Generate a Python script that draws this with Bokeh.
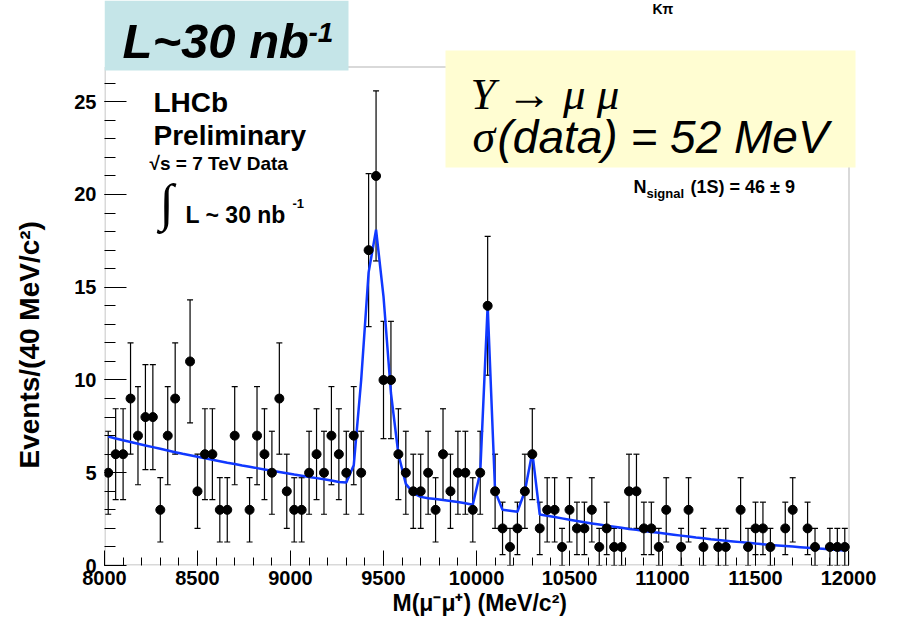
import math
from bokeh.plotting import figure
from bokeh.models import (Range1d, Whisker, ColumnDataSource, Label, BoxAnnotation,
                          TeeHead, FixedTicker, Title)
from bokeh.embed import file_html
from bokeh.resources import INLINE

# ---------------- data ----------------
mass_min = 8000.0
bin_width = 40.0
counts = [5, 6, 6, 9, 7, 8, 8, 3, 7, 9,
          0, 11, 4, 6, 6, 3, 3, 7, 0, 3,
          7, 6, 5, 9, 4, 3, 3, 5, 6, 5,
          7, 6, 5, 7, 5, 17, 21, 10, 10, 6,
          5, 4, 4, 5, 3, 6, 4, 5, 5, 3,
          5, 14, 4, 2, 1, 2, 4, 6, 2, 3,
          3, 1, 3, 2, 2, 3, 1, 2, 1, 1,
          4, 4, 2, 2, 1, 3, 0, 1, 3, 0,
          1, 0, 1, 1, 0, 3, 1, 2, 2, 1,
          0, 2, 3, 0, 2, 1, 0, 1, 1, 1]
fit = [6.95, 6.85, 6.75, 6.66, 6.56, 6.47, 6.38, 6.29, 6.20, 6.11,
       6.02, 5.94, 5.86, 5.78, 5.70, 5.62, 5.54, 5.47, 5.39, 5.32,
       5.25, 5.18, 5.11, 5.04, 4.97, 4.90, 4.84, 4.77, 4.71, 4.65,
       4.58, 4.50, 4.47, 5.40, 10.0, 15.8, 18.1, 14.5, 9.3, 6.0,
       4.40, 3.90, 3.70, 3.63, 3.58, 3.53, 3.48, 3.42, 3.36, 3.28,
       5.00, 14.0, 4.00, 3.00, 2.95, 2.90, 4.00, 6.10, 2.75, 2.68,
       2.61, 2.54, 2.47, 2.40, 2.33, 2.27, 2.21, 2.15, 2.09, 2.03,
       1.97, 1.92, 1.86, 1.81, 1.76, 1.71, 1.66, 1.61, 1.56, 1.51,
       1.47, 1.42, 1.38, 1.34, 1.30, 1.26, 1.22, 1.18, 1.15, 1.11,
       1.08, 1.05, 1.02, 0.99, 0.96, 0.93, 0.90, 0.87, 0.84, 0.81]
x_ticks = [8000, 8500, 9000, 9500, 10000, 10500, 11000, 11500, 12000]
y_ticks = [0, 5, 10, 15, 20, 25]
x_lo, x_hi = 8000, 12000
y_lo, y_hi = 0, 26.9

centers = [mass_min + bin_width * (i + 0.5) for i in range(len(counts))]
shown = [(c, n) for c, n in zip(centers, counts) if n > 0]
px_ = [c for c, n in shown]
py_ = [n for c, n in shown]
src = ColumnDataSource(dict(
    x=px_, y=py_,
    upper=[n + math.sqrt(n) for n in py_],
    lower=[n - math.sqrt(n) for n in py_]))

# ---------------- figure ----------------
W, H = 897, 625
L, B = 104, 60                 # left / bottom borders of the canvas
PX_X_HI, PX_Y_HI = 848, 66     # pixel of x=12000 and of y=26.9
fw, fh = W - L, H - B
x_per_px = (x_hi - x_lo) / (PX_X_HI - L)
y_per_px = (y_hi - y_lo) / (fh - PX_Y_HI)
XMAX = x_lo + fw * x_per_px
YMAX = y_lo + fh * y_per_px

p = figure(width=W, height=H, x_range=Range1d(x_lo, XMAX), y_range=Range1d(y_lo, YMAX),
           output_backend="svg", toolbar_location=None, title=None,
           min_border_left=L, min_border_right=0, min_border_top=0, min_border_bottom=B)
p.grid.visible = False
p.outline_line_color = None
p.background_fill_color = "white"
p.border_fill_color = "white"


def X(px):
    return x_lo + (px - L) * x_per_px


def Y(py):
    return (fh - py) * y_per_px


p.xaxis.ticker = FixedTicker(ticks=x_ticks, minor_ticks=list(range(8000, 12001, 100)))
p.yaxis.ticker = FixedTicker(ticks=y_ticks, minor_ticks=list(range(0, 27)))
for ax in (p.xaxis[0], p.yaxis[0]):
    ax.major_tick_out = 0
    ax.minor_tick_out = 0
    ax.axis_line_color = None
    ax.major_tick_line_color = "black"
    ax.minor_tick_line_color = "black"
    ax.major_label_text_font = "Liberation Sans"
    ax.major_label_text_font_style = "bold"
    ax.major_label_text_font_size = "20px"
    ax.major_label_text_color = "black"
p.xaxis.major_tick_in = 15
p.xaxis.minor_tick_in = 8
p.yaxis.major_tick_in = 22
p.yaxis.minor_tick_in = 11
p.xaxis.major_label_standoff = 5
p.yaxis.major_label_standoff = 8
# tiny blank axis label used only as a spacer, pushing the y title outwards
p.yaxis.axis_label = " "
p.yaxis.axis_label_text_font_size = "2px"
p.yaxis.axis_label_standoff = 22

# axis titles (as titles in the side panels, so they can be shifted)
p.add_layout(Title(text="Events/(40 MeV/c²)", align="left", offset=97, standoff=0,
                   text_font="Liberation Sans", text_font_style="bold",
                   text_font_size="28px", text_color="black"), "left")
p.add_layout(Title(text="M(μ\u207bμ\u207a) (MeV/c²)", align="left", offset=288, standoff=1,
                   text_font="Liberation Sans", text_font_style="bold",
                   text_font_size="23px", text_color="black"), "below")

# frame of the histogram
p.add_layout(BoxAnnotation(left=X(104.5), right=X(848.5), bottom=Y(564.5), top=Y(66.5),
                           fill_alpha=0, line_color="black", line_width=1, level="underlay"))

# ---------------- data marks ----------------
p.add_layout(Whisker(source=src, base="x", upper="upper", lower="lower", dimension="height",
                     line_color="black", line_width=1.2,
                     upper_head=TeeHead(size=6, line_color="black", line_width=1.2),
                     lower_head=TeeHead(size=6, line_color="black", line_width=1.2)))
p.line(centers, fit, line_color="#1038FF", line_width=2.5)
p.scatter("x", "y", source=src, size=9, color="black")

# ---------------- annotations ----------------
def lab(text, px, pyc, size, style="bold", font="Liberation Sans", align="left"):
    """pyc = vertical pixel position of the middle of the text line"""
    p.add_layout(Label(x=X(px), y=Y(pyc), text=text, text_font=font, text_font_style=style,
                       text_font_size=f"{size}px", text_align=align, text_baseline="middle",
                       text_color="black"))


# coloured boxes (above the frame line)
p.add_layout(BoxAnnotation(left=X(104), right=X(348), top=Y(0), bottom=Y(70),
                           fill_color="#C5E5E8", fill_alpha=1.0, line_alpha=0))
p.add_layout(BoxAnnotation(left=X(445), right=X(855), top=Y(50), bottom=Y(167),
                           fill_color="#FFFDD2", fill_alpha=1.0, line_alpha=0))

# in-frame texts
lab("LHCb", 153, 102, 28)
lab("Preliminary", 153, 135, 28)
lab("√s = 7 TeV Data", 149, 163, 19)
lab("∫", 159, 202, 52, style="normal", font="Liberation Serif")
lab("L ~ 30 nb", 185, 214, 23)
lab("-1", 292, 203, 13)
lab("N", 633, 186, 18)
lab("signal", 646, 193, 13)
lab("(1S) = 46 ± 9", 690, 186, 18)

lab("L~30 nb", 122, 40, 49, style="bold italic")
lab("-1", 308, 32, 28, style="bold italic")
lab("Kπ", 652, 8, 14)
lab("Υ → μ μ", 470, 93, 45, style="italic", font="Liberation Serif")
lab("σ", 472, 136, 46, style="italic", font="Liberation Serif")
lab("(data) = 52 MeV", 497, 136, 46, style="italic")

open("out.html", "w").write(file_html(p, INLINE))
